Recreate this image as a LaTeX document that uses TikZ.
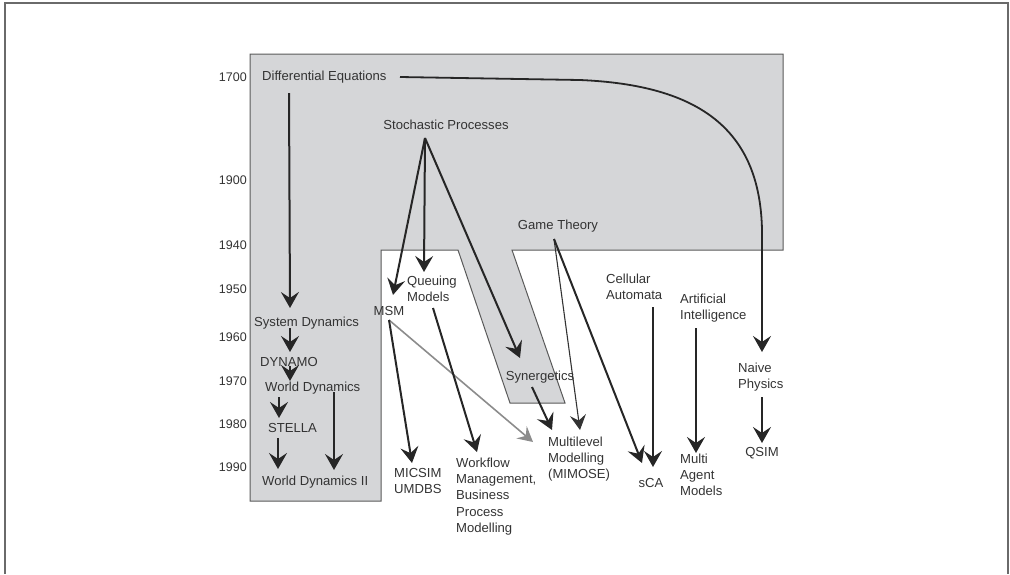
\documentclass[tikz,border=0pt]{standalone}
\usepackage{fontspec}
\setmainfont{Liberation Sans}
\usetikzlibrary{arrows.meta}
\definecolor{regfill}{HTML}{D5D6D8}
\definecolor{regline}{HTML}{5A5A5A}
\definecolor{ink}{HTML}{333333}
\definecolor{framecol}{HTML}{6A6A6A}
\tikzset{
  lbl/.style={inner sep=0pt, text=ink, font=\fontsize{13.1}{16.3}\selectfont, align=left},
  yr/.style={inner sep=0pt, text=ink, font=\fontsize{12.5}{14}\selectfont, anchor=east},
  arr/.style={draw=black!85, line width=2pt, -{Stealth[length=16pt,width=18pt,inset=6pt]}},
  thinarr/.style={draw=black!80, line width=1.1pt, -{Stealth[length=15pt,width=16pt,inset=5.5pt]}},
  grayarr/.style={draw=black!45, line width=1.6pt, -{Stealth[length=15pt,width=16pt,inset=5.5pt]}},
}
\begin{document}
\begin{tikzpicture}[x=1pt,y=-1pt]
\useasboundingbox (0,0) rectangle (1010,574);
% frame
\draw[framecol, line width=2pt] (4.5,574) -- (4.5,3) -- (1008,3) -- (1008,574);
% region
\draw[regline, fill=regfill, line width=1pt] (250,54) -- (783,54) -- (783,250) -- (512,250) -- (565,403) -- (510,403) -- (458,250) -- (381,250) -- (381,501) -- (250,501) -- cycle;
% years
\node[yr] (y1700) at (247,77) {1700};
\node[yr] (y1900) at (247,180) {1900};
\node[yr] (y1940) at (247,245) {1940};
\node[yr] (y1950) at (247,289) {1950};
\node[yr] (y1960) at (247,337) {1960};
\node[yr] (y1970) at (247,381) {1970};
\node[yr] (y1980) at (247,424) {1980};
\node[yr] (y1990) at (247,467) {1990};
% labels
\node[lbl, anchor=west] (de) at (262,77) {Differential Equations};
\node[lbl] (sp) at (446,125) {Stochastic Processes};
\node[lbl] (gt) at (558,226) {Game Theory};
\node[lbl, anchor=west] (ca) at (606,287) {Cellular\\Automata};
\node[lbl, anchor=west] (ai) at (680,308) {Artificial\\Intelligence};
\node[lbl, anchor=west] (np) at (738,377) {Naive\\Physics};
\node[lbl] (qsim) at (762,453) {QSIM};
\node[lbl] (sca) at (651,483) {sCA};
\node[lbl, anchor=west] (mam) at (680,475) {Multi\\Agent\\Models};
\node[lbl, anchor=west] (mm) at (548,459) {Multilevel\\Modelling\\(MIMOSE)};
\node[lbl] (syn) at (540,377) {Synergetics};
\node[lbl, anchor=west] (qm) at (407,289) {Queuing\\Models};
\node[lbl] (msm) at (389,311) {MSM};
\node[lbl, anchor=west] (mu) at (394,481) {MICSIM\\UMDBS};
\node[lbl, anchor=west] (wf) at (456,496.5) {Workflow\\Management,\\Business\\Process\\Modelling};
\node[lbl, anchor=west] (sd) at (254,323) {System Dynamics};
\node[lbl, anchor=west] (dyn) at (260,362) {DYNAMO};
\node[lbl, anchor=west] (wd) at (265,388) {World Dynamics};
\node[lbl, anchor=west] (st) at (268,428) {STELLA};
\node[lbl, anchor=west] (wd2) at (262,482) {World Dynamics II};
% connector end points
\coordinate (deS) at (289,93);   \coordinate (sdN) at (290,308);
\coordinate (deE) at (400,77);   \coordinate (npN) at (762,352);
\coordinate (spS) at (425,138);
\coordinate (msmN) at (393,295); \coordinate (qmN) at (424,272); \coordinate (synN) at (520,358);
\coordinate (gtS) at (554,239);  \coordinate (mmN) at (580,430); \coordinate (scaN1) at (642,463);
\coordinate (caS) at (653,307);  \coordinate (scaN2) at (653,467);
\coordinate (aiS) at (696,328);  \coordinate (mamN) at (696,453);
\coordinate (npS) at (762,397);  \coordinate (qsimN) at (762,443);
\coordinate (synS) at (532,387); \coordinate (mmN2) at (552,430);
\coordinate (msmS) at (389,320); \coordinate (mmW) at (533,442); \coordinate (muN) at (412,463);
\coordinate (qmS) at (433,308);  \coordinate (wfN) at (477,452);
\coordinate (sdS) at (290,328);  \coordinate (dynN) at (290,352);
\coordinate (dynS) at (290,366); \coordinate (wdN) at (290,381);
\coordinate (wdS) at (279,397);  \coordinate (stN) at (279,418);
\coordinate (stS) at (278,438);  \coordinate (wd2N) at (278,469);
\coordinate (wdS2) at (334,392); \coordinate (wd2N2) at (334,470);
% connectors
\draw[arr] (deS) -- (sdN);
\draw[arr, line width=1.8pt] (deE) -- (580,80) .. controls (700,85) and (760,130) .. (762,230) -- (npN);
\draw[arr] (spS) -- (msmN);
\draw[arr] (spS) -- (qmN);
\draw[arr] (spS) -- (synN);
\draw[thinarr] (gtS) -- (mmN);
\draw[arr] (gtS) -- (scaN1);
\draw[arr] (caS) -- (scaN2);
\draw[arr] (aiS) -- (mamN);
\draw[arr] (npS) -- (qsimN);
\draw[arr] (synS) -- (mmN2);
\draw[grayarr] (msmS) -- (mmW);
\draw[arr] (msmS) -- (muN);
\draw[arr] (qmS) -- (wfN);
\draw[arr] (sdS) -- (dynN);
\draw[arr] (dynS) -- (wdN);
\draw[arr] (wdS) -- (stN);
\draw[arr] (stS) -- (wd2N);
\draw[arr] (wdS2) -- (wd2N2);
\end{tikzpicture}
\end{document}
